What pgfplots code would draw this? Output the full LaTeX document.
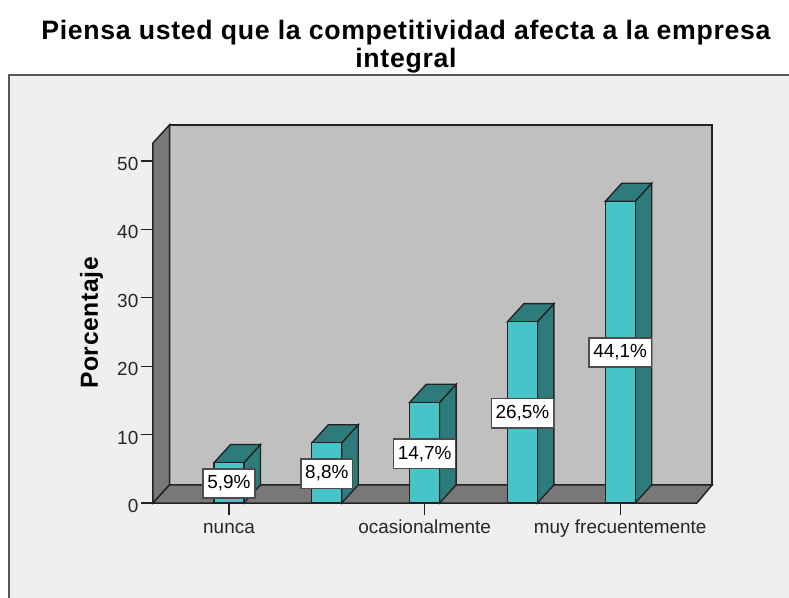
\documentclass[border=0pt]{standalone}
\usepackage{pgfplots}
\pgfplotsset{compat=1.18}
\usepackage{pgfplotstable}
\usepackage{fontspec}
\setmainfont{Liberation Sans}
\newfontfamily\spacedbold[LetterSpace=2.6]{Liberation Sans Bold}
\definecolor{panel}{HTML}{EFEFEF}
\definecolor{wall}{HTML}{C0C0C0}
\definecolor{floorc}{HTML}{787878}
\definecolor{front}{HTML}{48C4C8}
\definecolor{dark}{HTML}{2E7B7B}
\definecolor{ln}{HTML}{222222}
\pgfplotstableread{
x v
0 5.9
1 8.8
2 14.7
3 26.5
4 44.1
}\bars
\pgfplotstableread{
x h l
0 2.85 5,9
1 4.3 8,8
2 7.2 14,7
3 13.1 26,5
4 22.0 44,1
}\labelsT
\begin{document}
\begin{tikzpicture}[x=1pt,y=1pt]
\useasboundingbox (0,0) rectangle (591.75,448.5);
\fill[white] (0,0) rectangle (591.75,448.5);
\fill[panel] (6.75,0) rectangle (591.75,392.25);
\draw[color=black!65,line width=1.1pt] (6.75,0) -- (6.75,392.25) -- (591.75,392.25);
\begin{axis}[
  at={(114.75pt,71.25pt)},anchor=south west,
  scale only axis,width=408pt,height=270pt,
  xmin=-0.777,xmax=4.785,ymin=0,ymax=52.63,
  clip=false,
  axis lines=left,
  axis line style={-,color=ln,line width=1.1pt},
  xtick={0,2,4},
  xticklabels={nunca,ocasionalmente,muy frecuentemente},
  ytick={0,10,20,30,40,50},
  tick align=outside,
  major tick length=9pt,
  tick style={color=ln,line width=0.9pt},
  tick label style={font=\fontsize{14.2}{16}\selectfont,color=black!85},
  xticklabel style={text height=10.5pt,text depth=3pt,yshift=0pt},
  yticklabel style={yshift=-2.2pt,xshift=1.5pt},
  /pgf/number format/assume math mode=true,
  ylabel={Porcentaje},
  ylabel style={at={(axis description cs:-0.113,0.5)},anchor=center,font=\fontsize{18.5}{20}\spacedbold},
  title={Piensa usted que la competitividad afecta a la empresa\\integral},
  title style={at={(axis description cs:0.465,1.245)},anchor=center,yshift=0pt,align=center,font=\fontsize{20}{21.2}\spacedbold},
]
% back wall, left wall, floor
\addplot[fill=wall,draw=ln,line width=1.1pt] coordinates {(-0.608,2.65)(4.94,2.65)(4.94,55.28)(-0.608,55.28)} --cycle;
\addplot[fill=floorc,draw=ln,line width=1.1pt] coordinates {(-0.777,0)(-0.608,2.65)(-0.608,55.28)(-0.777,52.63)} --cycle;
\addplot[fill=floorc,draw=ln,line width=1.1pt] coordinates {(-0.777,0)(4.785,0)(4.94,2.65)(-0.608,2.65)} --cycle;
% bar sides
\addplot[fill=dark,draw=ln,line width=1pt] coordinates {(0.153,0)(0.322,2.65)(0.322,8.55)(0.153,5.9)} --cycle;
\addplot[fill=dark,draw=ln,line width=1pt] coordinates {(1.153,0)(1.322,2.65)(1.322,11.45)(1.153,8.8)} --cycle;
\addplot[fill=dark,draw=ln,line width=1pt] coordinates {(2.153,0)(2.322,2.65)(2.322,17.35)(2.153,14.7)} --cycle;
\addplot[fill=dark,draw=ln,line width=1pt] coordinates {(3.153,0)(3.322,2.65)(3.322,29.15)(3.153,26.5)} --cycle;
\addplot[fill=dark,draw=ln,line width=1pt] coordinates {(4.153,0)(4.322,2.65)(4.322,46.75)(4.153,44.1)} --cycle;
% bar tops
\addplot[fill=dark,draw=ln,line width=1pt] coordinates {(-0.153,5.9)(0.153,5.9)(0.322,8.55)(0.016,8.55)} --cycle;
\addplot[fill=dark,draw=ln,line width=1pt] coordinates {(0.847,8.8)(1.153,8.8)(1.322,11.45)(1.016,11.45)} --cycle;
\addplot[fill=dark,draw=ln,line width=1pt] coordinates {(1.847,14.7)(2.153,14.7)(2.322,17.35)(2.016,17.35)} --cycle;
\addplot[fill=dark,draw=ln,line width=1pt] coordinates {(2.847,26.5)(3.153,26.5)(3.322,29.15)(3.016,29.15)} --cycle;
\addplot[fill=dark,draw=ln,line width=1pt] coordinates {(3.847,44.1)(4.153,44.1)(4.322,46.75)(4.016,46.75)} --cycle;
% bar fronts
\addplot[ybar,bar width=22.5pt,fill=front,draw=ln,line width=1pt] table[x=x,y=v] {\bars};
% value labels
\addplot[draw=none,mark=none,
  point meta=explicit symbolic,
  nodes near coords={\pgfplotspointmeta\%},
  nodes near coords style={anchor=center,fill=white,draw=black!70,line width=1.1pt,
    font=\fontsize{14.2}{16}\selectfont,text=black,inner xsep=3.2pt,inner ysep=0pt,minimum height=22pt},
] table[x=x,y=h,meta=l] {\labelsT};
\end{axis}
\end{tikzpicture}
\end{document}
